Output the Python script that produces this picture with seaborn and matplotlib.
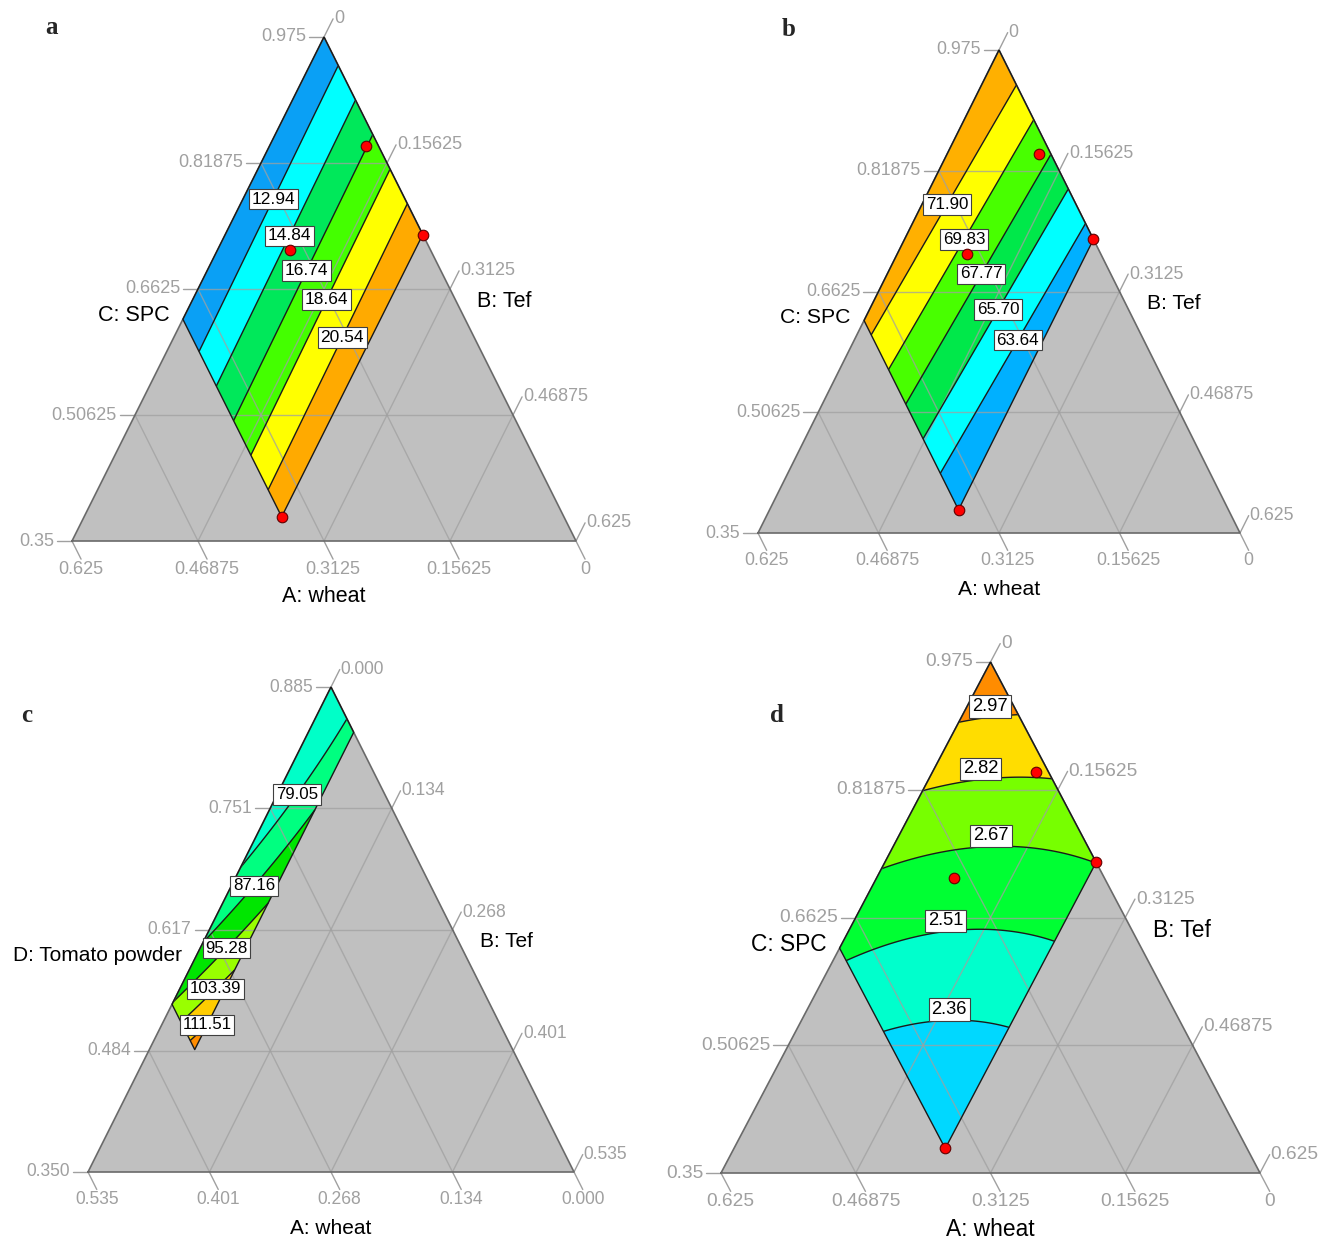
import numpy as np
import pandas as pd
import matplotlib
matplotlib.use("Agg")
import matplotlib.pyplot as plt
import seaborn as sns

sns.set_theme(style="white")
plt.rcParams["font.family"] = ["Liberation Sans", "DejaVu Sans"]

# ------------------------------------------------------------------ data
# tick labels (listed from pseudo-value 0 to 1 along each axis)
std_A_ticks = ["0", "0.15625", "0.3125", "0.46875", "0.625"]
std_B_ticks = ["0", "0.15625", "0.3125", "0.46875", "0.625"]
std_C_ticks = ["0.35", "0.50625", "0.6625", "0.81875", "0.975"]
c_A_ticks = ["0.000", "0.134", "0.268", "0.401", "0.535"]
c_B_ticks = ["0.000", "0.134", "0.268", "0.401", "0.535"]
c_D_ticks = ["0.350", "0.484", "0.617", "0.751", "0.885"]

# component ranges / constraints
std_span, std_low = 0.625, 0.35
std_A_max, std_B_max = 0.35, 0.245
c_span, c_low = 0.535, 0.35
c_A_max, c_B_max = 0.35, 0.05

# design points (A: wheat, B: Tef; C = 0.975 - A - B)
dp_A = [0.015, 0.174, 0.0, 0.35]
dp_B = [0.12, 0.09, 0.245, 0.245]

# panel a : contour levels and crossings (pseudo b', c')
a_levels = [12.94, 14.84, 16.74, 18.64, 20.54]
a_colors = ["#0aa0f5", "#00ffff", "#00e85a", "#44ff00", "#ffff00", "#ffaa00"]
a_read_b = [0.056, 0.125, 0.193, 0.262, 0.332, 0.066, 0.133, 0.199, 0.269, 0.339]
a_read_c = [0.944, 0.875, 0.807, 0.738, 0.668, 0.374, 0.307, 0.241, 0.171, 0.101]
a_read_z = [12.94, 14.84, 16.74, 18.64, 20.54, 12.94, 14.84, 16.74, 18.64, 20.54]

# panel b
b_levels = [63.64, 65.70, 67.77, 69.83, 71.90]
b_colors = ["#00b0ff", "#00ffff", "#00e84a", "#48ff00", "#ffff00", "#ffb000"]
b_read_b = [0.069, 0.146, 0.219, 0.288, 0.357, 0.031, 0.100, 0.174, 0.245, 0.316]
b_read_c = [0.931, 0.854, 0.781, 0.712, 0.643, 0.409, 0.340, 0.266, 0.195, 0.124]
b_read_z = [71.90, 69.83, 67.77, 65.70, 63.64, 71.90, 69.83, 67.77, 65.70, 63.64]

# panel c
c_levels = [79.05, 87.16, 95.28, 103.39, 111.51]
c_colors = ["#00ffc8", "#00ff80", "#00e600", "#99ff00", "#ffcc00", "#ff8c00"]
c_read_b = [0.000, 0.0636, 0.0934, 0.0934, 0.000, 0.0934, 0.0934]
c_read_c = [0.628, 0.936, 0.723, 0.557, 0.350, 0.431, 0.297]
c_read_z = [79.05, 79.05, 87.16, 95.28, 95.28, 103.39, 111.51]

# panel d
d_levels = [2.36, 2.51, 2.67, 2.82, 2.97]
d_colors = ["#00d8ff", "#00ffcc", "#00ff33", "#77ff00", "#ffdd00", "#ff8c00"]
d_read_b = [0.000, 0.104, 0.000, 0.116, 0.231, 0.000, 0.188, 0.392, 0.026, 0.201, 0.392, 0.165, 0.276, 0.392]
d_read_c = [0.883, 0.896, 0.748, 0.777, 0.769, 0.591, 0.634, 0.608, 0.419, 0.481, 0.454, 0.278, 0.297, 0.284]
d_read_z = [2.97, 2.97, 2.82, 2.82, 2.82, 2.67, 2.67, 2.67, 2.51, 2.51, 2.51, 2.36, 2.36, 2.36]

# ------------------------------------------------------------------ helpers
FW, FH = 1324, 1241
PX = 0.72  # points per pixel at 100 dpi
GRAY = "#c0c0c0"
GRID = "#a0a0a0"
TICKC = "#a0a0a0"

T_lin = [lambda b, c: np.ones_like(b), lambda b, c: b, lambda b, c: c]
T_quad = T_lin + [lambda b, c: b * b, lambda b, c: c * c, lambda b, c: b * c]
T_cq = T_lin + [lambda b, c: c * c]


def fit_surface(bv, cv, zv, terms):
    bv = np.asarray(bv, float)
    cv = np.asarray(cv, float)
    M = np.column_stack([t(bv, cv) for t in terms])
    coef, *_ = np.linalg.lstsq(M, np.asarray(zv, float), rcond=None)
    return lambda bb, cc: sum(k * t(bb, cc) for k, t in zip(coef, terms))


def draw_panel(P):
    BLx, BLy, W, H = P["box"]
    s = P["fs"]
    ax = fig.add_axes([BLx / FW, (FH - BLy) / FH, W / FW, H / FH])
    ax.fill([0, 1, 0.5], [0, 0, 1], color=GRAY, lw=0, zorder=0)

    amax, bmax = P["amax"], P["bmax"]
    u = np.linspace(0, 1, 260)
    U, V = np.meshgrid(u, u)
    Ap, Bp = U * amax, V * bmax
    Cp = 1 - Ap - Bp
    X, Y = Bp + Cp / 2, Cp
    Z = P["model"](Bp, Cp)
    lv = [-1e9] + list(P["levels"]) + [1e9]
    ax.contourf(X, Y, Z, levels=lv, colors=P["colors"], zorder=1, antialiased=True)
    cs = ax.contour(X, Y, Z, levels=P["levels"], colors="#1a1a1a", linewidths=1.0, zorder=3)

    # grid lines
    for f in [0.25, 0.5, 0.75]:
        kw = dict(color=GRID, lw=1.0, alpha=0.75, zorder=2)
        ax.plot([f / 2, 1 - f / 2], [f, f], **kw)
        ax.plot([1 - f, (1 - f) / 2], [0, 1 - f], **kw)
        ax.plot([f, 0.5 + f / 2], [0, 1 - f], **kw)

    # outlines
    ax.plot([0, 1, 0.5, 0], [0, 0, 1, 0], color="#6a6a6a", lw=1.2, zorder=4, clip_on=False)
    reg_a = np.array([0, 0, amax, amax, 0])
    reg_b = np.array([0, bmax, bmax, 0, 0])
    reg_c = 1 - reg_a - reg_b
    ax.plot(reg_b + reg_c / 2, reg_c, color="#1a1a1a", lw=1.0, zorder=4)

    # ticks and tick labels
    tab = 0.036
    clen = 15.0 / W
    tk = dict(fontsize=13 * s, color=TICKC, textcoords="offset points", annotation_clip=False)
    for k, f in enumerate([0, 0.25, 0.5, 0.75, 1.0]):
        x0, y0 = f / 2, f
        ax.plot([x0, x0 - clen], [y0, y0], color=GRID, lw=1, clip_on=False, zorder=2)
        ax.annotate(P["Cticks"][k], (x0 - clen, y0), xytext=(-3 * PX, 0), ha="right", va="center", **tk)
        x0, y0 = 1 - f, 0
        ax.plot([x0, x0 + 0.5 * tab], [y0, y0 - tab], color=GRID, lw=1, clip_on=False, zorder=2)
        ax.annotate(P["Aticks"][k], (x0 + 0.5 * tab, y0 - tab), xytext=(0, -2 * PX), ha="center", va="top", **tk)
        x0, y0 = 0.5 + f / 2, 1 - f
        ax.plot([x0, x0 + 0.5 * tab], [y0, y0 + tab], color=GRID, lw=1, clip_on=False, zorder=2)
        ax.annotate(P["Bticks"][k], (x0 + 0.5 * tab, y0 + tab), xytext=(1 * PX, 0), ha="left", va="center", **tk)

    tt = dict(fontsize=15.5 * s, color="black", textcoords="offset points", annotation_clip=False)
    ax.annotate(P["Atitle"], (0.5, 0), xytext=(0, -56 * PX), ha="center", va="center", **tt)
    ax.annotate(P["Ctitle"], (0.447 / 2, 0.447), xytext=(-15 * PX, 0), ha="right", va="center", **tt)
    ax.annotate(P["Btitle"], (1 - 0.475 / 2, 0.475), xytext=(21 * PX, 0), ha="left", va="center", **tt)

    # contour labels
    paths = cs.get_paths()
    for i, lev in enumerate(P["levels"]):
        pts = paths[i].vertices
        if len(pts) == 0:
            continue
        d = ((pts[:, 0] - P["lab_x"][i]) * W) ** 2 + ((pts[:, 1] - P["lab_y"][i]) * H) ** 2
        x, y = pts[np.argmin(d)]
        box = dict(boxstyle="square,pad=0.16", fc="white", ec="#404040", lw=0.8)
        if P["above"]:
            ax.annotate(f"{lev:.2f}", (x, y), xytext=(0, 2 * PX), textcoords="offset points",
                        ha="center", va="bottom", fontsize=12.5 * s, color="black", bbox=box, zorder=6)
        else:
            ax.text(x, y, f"{lev:.2f}", ha="center", va="center", fontsize=12.5 * s,
                    color="black", bbox=box, zorder=6)

    # design points
    if P["points"]:
        A = np.array(dp_A)
        B = np.array(dp_B)
        bp = B / std_span
        cp = (0.975 - A - B - std_low) / std_span
        df = pd.DataFrame({"x": bp + cp / 2, "y": cp})
        sns.scatterplot(data=df, x="x", y="y", ax=ax, color="#ff0000", edgecolor="#600000",
                        linewidth=0.8, s=58, zorder=7, legend=False)

    ax.set_xlim(0, 1)
    ax.set_ylim(0, 1)
    ax.set_axis_off()
    return ax


fig = plt.figure(figsize=(FW / 100, FH / 100), dpi=100)
fig.patch.set_facecolor("white")

std_amax = std_A_max / std_span
std_bmax = std_B_max / std_span

panels = [
    dict(box=(72, 541, 504, 504), amax=std_amax, bmax=std_bmax, fs=1.0,
         model=fit_surface(a_read_b, a_read_c, a_read_z, T_lin),
         levels=a_levels, colors=a_colors,
         lab_x=[0.389, 0.415, 0.446, 0.492, 0.526], lab_y=[0.684, 0.613, 0.546, 0.486, 0.409], above=False,
         Aticks=std_A_ticks, Bticks=std_B_ticks, Cticks=std_C_ticks,
         Atitle="A: wheat", Btitle="B: Tef", Ctitle="C: SPC", points=True),
    dict(box=(758, 533, 482, 483), amax=std_amax, bmax=std_bmax, fs=0.98,
         model=fit_surface(b_read_b, b_read_c, b_read_z, T_lin),
         levels=b_levels, colors=b_colors,
         lab_x=[0.529, 0.492, 0.454, 0.421, 0.382], lab_y=[0.404, 0.466, 0.542, 0.613, 0.685], above=False,
         Aticks=std_A_ticks, Bticks=std_B_ticks, Cticks=std_C_ticks,
         Atitle="A: wheat", Btitle="B: Tef", Ctitle="C: SPC", points=True),
    dict(box=(88, 1172, 486, 485), amax=c_A_max / c_span, bmax=c_B_max / c_span, fs=0.97,
         model=fit_surface(c_read_b, c_read_c, c_read_z, T_cq),
         levels=c_levels, colors=c_colors,
         lab_x=[0.409, 0.323, 0.263, 0.241, 0.230], lab_y=[0.794, 0.606, 0.482, 0.400, 0.332], above=False,
         Aticks=c_A_ticks, Bticks=c_B_ticks, Cticks=c_D_ticks,
         Atitle="A: wheat", Btitle="B: Tef", Ctitle="D: Tomato powder", points=False),
    dict(box=(721, 1173, 539, 511), amax=std_amax, bmax=std_bmax, fs=1.06,
         model=fit_surface(d_read_b, d_read_c, d_read_z, T_quad),
         levels=d_levels, colors=d_colors,
         lab_x=[0.423, 0.416, 0.501, 0.482, 0.499], lab_y=[0.30, 0.48, 0.64, 0.77, 0.89], above=True,
         Aticks=std_A_ticks, Bticks=std_B_ticks, Cticks=std_C_ticks,
         Atitle="A: wheat", Btitle="B: Tef", Ctitle="C: SPC", points=True),
]

for P in panels:
    draw_panel(P)

for letter, (px, py) in zip("abcd", [(52, 27), (789, 30), (27, 716), (777, 716)]):
    fig.text(px / FW, 1 - py / FH, letter, fontsize=18, fontweight="bold",
             family=["Liberation Serif", "DejaVu Serif"], ha="center", va="center")

fig.savefig("out.png", dpi=100, facecolor="white")
